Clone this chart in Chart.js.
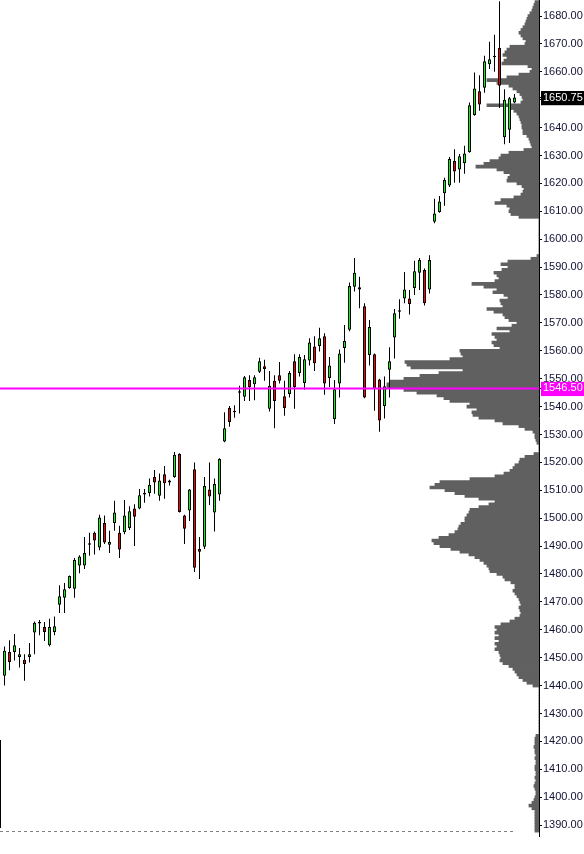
<!DOCTYPE html>
<html><head><meta charset="utf-8">
<script src="https://cdn.jsdelivr.net/npm/chart.js@4.4.0/dist/chart.umd.min.js"></script>
<style>html,body{margin:0;padding:0;background:#fff;}canvas{display:block;}</style>
</head><body>
<canvas id="c" width="584" height="854"></canvas>
<script>
// ---- candle data (index -1 is the bar cut off at the left edge) ----
const candleIndex = Array.from({length: 104}, (_, i) => i - 1);
const opens = [1420.5,
 1443.5,1452,1452,1450.25,1449.25,1450.25,1459,1462.25,1461,1454.5,
 1459.25,1469,1471.5,1475,1474.75,1483,1483,1490.5,1494.75,1489.5,
 1498.25,1490.5,1498.25,1494.75,1495,1496.5,1503.5,1503.5,1508.5,1509,
 1514.75,1508,1515.75,1512.75,1514.75,1523,1501,1502.75,1517.5,1489,
 1489.75,1510.25,1502,1508.5,1527.5,1539.5,1538,1545,1543.5,1549.5,
 1548,1552.5,1554.5,1539.25,1549.25,1551.25,1543.75,1544.5,1556.25,1552,
 1548.5,1556.5,1561.5,1561.75,1565.25,1550.25,1535.5,1548.25,1561,1567.5,
 1583,1582.75,1576,1558.5,1558.75,1549.75,1540.25,1553.25,1564.75,1574,
 1578.75,1578.75,1582.5,1588,1589,1582,1606.25,1609.75,1616.5,1619.25,
 1628,1625,1627.25,1631.25,1644.5,1653,1654.25,1662.75,1665.25,1668.5,
 1636.5,1639.25,1649];
const highs = [1421,
 1454,1456.25,1458.5,1453.5,1451.25,1455.25,1463,1463.5,1462.75,1464,
 1464.75,1476,1476.75,1479.5,1485.75,1486.75,1493.25,1494.75,1495.25,1501.25,
 1501,1495.5,1506.25,1497.25,1506.5,1504.25,1505,1510.5,1510.5,1514.25,
 1517.25,1516,1518.75,1513.75,1523.75,1523.25,1501.25,1510.5,1520,1493.25,
 1514.75,1520,1514.25,1521.5,1538,1540.25,1540.5,1547.5,1551,1551.25,
 1551.25,1557.5,1556.75,1552.75,1551.25,1556,1549.25,1552.75,1558.75,1558.75,
 1558.5,1564.5,1565.25,1568.25,1566.25,1557.75,1549.5,1560.5,1569.25,1584.5,
 1593.25,1586.5,1577,1571,1559,1550,1550.75,1561.25,1575,1578.5,
 1588.25,1581.75,1592.25,1593.25,1589.5,1594.25,1614.5,1615.5,1622,1629.5,
 1632.25,1630.5,1633.5,1649,1659.75,1658.75,1665.75,1670.75,1673.25,1685.25,
 1653.75,1651,1652];
const lows = [1388.5,
 1440,1445.5,1449,1446.5,1441.75,1448.25,1451.25,1458,1456,1454,
 1458,1466,1466,1474.75,1471.5,1480.25,1481.75,1486.5,1487,1488.5,
 1490.75,1487.5,1495.5,1485.75,1494.25,1495.75,1490,1503.25,1505.5,1507.75,
 1508.75,1506.25,1507,1511.75,1514.5,1502,1490.75,1499,1480.75,1478.25,
 1489,1504.75,1495.25,1506.25,1527.25,1532.75,1536,1537.5,1542,1542,
 1542.25,1552,1549.25,1538.25,1532.25,1548.25,1536.75,1543.25,1539.25,1550.75,
 1546,1554.75,1552.75,1559.75,1544.25,1547,1533.75,1543.25,1555.75,1567,
 1581.25,1575.25,1543,1554.75,1538.5,1531,1535.75,1543.25,1557.25,1571.5,
 1577,1573,1580,1581.75,1576.25,1580.5,1605.75,1609.5,1612,1618.75,
 1620.25,1620.25,1623.5,1631,1644.25,1646,1652.5,1661,1660,1647,
 1634,1634.5,1648.75];
const closes = [1389,
 1452.5,1448.5,1454.5,1451.25,1447.75,1451.25,1462.5,1462.75,1459.25,1461,
 1461.25,1472,1474.5,1479.25,1485,1486.25,1487.5,1491,1492,1500.25,
 1491.25,1491.5,1502,1488.75,1501,1502.5,1500.5,1508.25,1509,1512,
 1512.75,1513.5,1512.5,1513.5,1522.75,1502.25,1496.25,1510.25,1482.25,1488,
 1511.5,1507.75,1512.25,1521.25,1532.25,1534.5,1538.5,1545.5,1550.5,1547,
 1550.5,1556.25,1553.5,1547.5,1542,1549.25,1539.5,1552,1547,1557.75,
 1557,1563,1555.5,1564.5,1548.25,1554.75,1546.25,1559,1563.5,1583.25,
 1588,1582,1543.25,1568.5,1546.25,1535,1547.25,1556.25,1573.5,1574.5,
 1582,1576.75,1588.5,1592.5,1577,1592.5,1609.25,1613.5,1621.25,1628.75,
 1624.25,1629.75,1630.75,1648,1654,1648.25,1663.75,1664.5,1665.75,1655,
 1650,1650.5,1650.75];

// ---- price axis ----
const yTicks = [1390,1400,1410,1420,1430,1440,1450,1460,1470,1480,1490,1500,1510,1520,1530,
 1540,1550,1560,1570,1580,1590,1600,1610,1620,1630,1640,1650,1660,1670,1680];
const lastPrice = 1650.75;
const pocPrice = 1546.50;

// ---- volume profile, one value per point from 1388 to 1685 ----
const profileStart = 1388;
const profileVolume = [
 4,4,4,4,4,4,4,4,7,10,7,5,4,3,3,4,5,4,3,4,3,3,4,4,3,3,4,3,4,4,5,4,4,4,3,
 0,0,0,0,0,0,0,0,0,0,0,0,0,0,0,0,0,
 6,12,16,20,22,24,26,30,36,39,38,39,40,44,42,44,40,44,40,44,42,44,38,29,24,19,18,19,20,18,
 19,20,22,24,26,24,24,28,34,36,42,49,50,52,55,59,64,70,79,88,99,105,107,100,90,84,81,80,78,74,
 74,72,70,69,60,50,44,60,74,84,94,109,104,99,69,44,35,29,26,24,20,19,14,5,
 0,0,0,
 2,3,4,4,6,14,20,36,44,60,66,67,62,72,69,89,95,102,122,135,152,152,149,135,119,100,76,128,132,134,
 89,76,78,79,39,45,47,42,44,47,29,42,27,22,30,34,36,45,52,36,38,39,31,35,46,42,55,67,44,40,
 42,45,37,31,38,31,8,2,
 0,0,0,0,0,0,0,0,0,0,0,0,0,
 20,28,30,29,32,44,38,25,18,16,15,17,22,32,31,29,35,42,63,55,49,40,38,30,15,7,8,9,10,12,
 16,16,17,17,18,19,20,22,25,29,52,18,16,17,19,22,26,30,42,52,32,20,9,7,11,37,35,32,36,34,
 32,29,14,13,16,18,20,18,16,14,13,12,11,9,7,6,5,4];
const profilePrices = profileVolume.map((_, i) => profileStart + i);

// ---- chart ----
const Y_MIN = 1386.09, Y_MAX = 1685.735;
const X_MIN = -0.9, X_MAX = 106.9;
const isSpecial = v => v === lastPrice || v === pocPrice;

const framePlugin = {
  id: 'frame',
  afterDatasetsDraw(chart) {
    const ctx = chart.ctx, a = chart.chartArea;
    ctx.save();
    ctx.strokeStyle = '#808080';
    ctx.lineWidth = 1;
    ctx.setLineDash([3, 3]);
    ctx.beginPath();
    ctx.moveTo(a.left, a.bottom - 4.5);
    ctx.lineTo(chart.scales.x.getPixelForValue(101.7), a.bottom - 4.5);
    ctx.stroke();
    ctx.restore();
  }
};

new Chart(document.getElementById('c'), {
  type: 'bar',
  data: {
    datasets: [
      {
        type: 'line', label: 'poc', order: 0,
        data: [{x: X_MIN, y: pocPrice}, {x: X_MAX, y: pocPrice}],
        borderColor: '#ff00ff', borderWidth: 2, pointRadius: 0,
        xAxisID: 'x', yAxisID: 'y'
      },
      {
        type: 'bar', label: 'bodies', order: 1, grouped: false,
        data: candleIndex.map((x, i) => ({x, y: [opens[i], closes[i]]})),
        backgroundColor: candleIndex.map((_, i) => closes[i] >= opens[i] ? '#00ff00' : '#ff0000'),
        borderColor: '#000', borderWidth: 1, borderSkipped: false,
        barThickness: 3, inflateAmount: 0,
        xAxisID: 'x', yAxisID: 'y'
      },
      {
        type: 'bar', label: 'wicks', order: 2, grouped: false,
        data: candleIndex.map((x, i) => ({x, y: [lows[i], highs[i]]})),
        backgroundColor: '#000', borderWidth: 0,
        barThickness: 1, inflateAmount: 0,
        xAxisID: 'x', yAxisID: 'y'
      },
      {
        type: 'bar', label: 'profile', order: 3, grouped: false, indexAxis: 'y',
        data: profilePrices.map((p, i) => ({x: profileVolume[i], y: p})),
        backgroundColor: '#606060', borderWidth: 0,
        barPercentage: 1, categoryPercentage: 1, inflateAmount: 0.4,
        xAxisID: 'xv', yAxisID: 'yp'
      }
    ]
  },
  options: {
    responsive: false, animation: false, devicePixelRatio: 1,
    layout: {padding: {left: 0, right: 0, top: 0, bottom: 18}},
    plugins: {legend: {display: false}, tooltip: {enabled: false}},
    events: [],
    scales: {
      x: {type: 'linear', axis: 'x', display: false, min: X_MIN, max: X_MAX, offset: false, grid: {offset: false}},
      xv: {type: 'linear', axis: 'x', display: false, min: 0, max: 539, reverse: true, offset: false},
      yp: {type: 'linear', axis: 'y', display: false, min: Y_MIN, max: Y_MAX, offset: false, grid: {offset: false}},
      y: {
        type: 'linear', axis: 'y', position: 'right', min: Y_MIN, max: Y_MAX, offset: false,
        afterBuildTicks: s => { s.ticks = yTicks.concat([lastPrice, pocPrice]).map(v => ({value: v})); },
        afterFit: s => { s.width = 45; s.paddingTop = 0; s.paddingBottom = 0; },
        ticks: {
          autoSkip: false, padding: 1,
          font: {family: "'Liberation Sans', Arial, sans-serif", size: 11},
          color: c => (c.tick && isSpecial(c.tick.value)) ? '#ffffff' : '#111133',
          callback: v => Number(v).toFixed(2),
          showLabelBackdrop: true,
          backdropColor: c => (c.tick && c.tick.value === lastPrice) ? '#000000' :
                              (c.tick && c.tick.value === pocPrice) ? '#ff00ff' : 'rgba(0,0,0,0)',
          backdropPadding: {top: 0, bottom: 1, left: 2, right: 3}
        },
        grid: {drawOnChartArea: false, drawTicks: true, tickLength: 3, color: '#000'},
        border: {display: true, color: '#000', width: 1}
      }
    }
  },
  plugins: [framePlugin]
});
</script>
</body></html>
